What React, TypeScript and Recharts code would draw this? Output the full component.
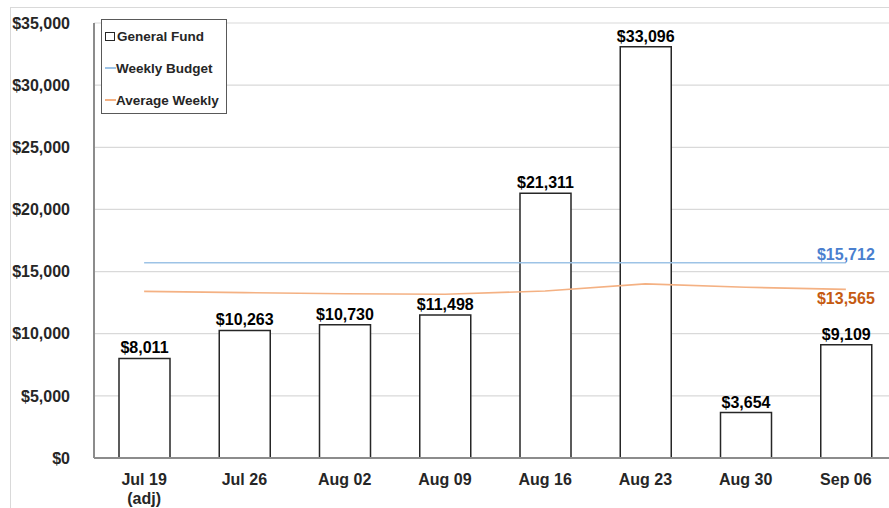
import { ComposedChart, Bar, Line, XAxis, YAxis, CartesianGrid, LabelList } from "recharts";

const categories = ["Jul 19\n(adj)", "Jul 26", "Aug 02", "Aug 09", "Aug 16", "Aug 23", "Aug 30", "Sep 06"];
const generalFund = [8011, 10263, 10730, 11498, 21311, 33096, 3654, 9109];
const weeklyBudget = [15712, 15712, 15712, 15712, 15712, 15712, 15712, 15712];
const averageWeekly = [13410, 13310, 13210, 13170, 13440, 14010, 13740, 13565];
const yTicks = [0, 5000, 10000, 15000, 20000, 25000, 30000, 35000];

const FONT = "'Liberation Sans', Arial, sans-serif";

const data = categories.map((c, i) => ({
  name: c,
  fund: generalFund[i],
  budget: weeklyBudget[i],
  avg: averageWeekly[i],
}));

const money = (v: number) => "$" + Number(v).toLocaleString("en-US");

function XTick(props: any) {
  const { x, y, payload } = props;
  const lines = String(payload.value).split("\n");
  return (
    <text x={x} y={y} textAnchor="middle" fontFamily={FONT} fontSize={16} fontWeight="bold" fill="#262626">
      {lines.map((l, i) => (
        <tspan key={i} x={x} dy={i === 0 ? 19 : 19}>
          {l}
        </tspan>
      ))}
    </text>
  );
}

// only the last point of each line gets its value label
const endLabel = (color: string, below: boolean) => (props: any) => {
  const { x, y, index, value } = props;
  if (index !== categories.length - 1) return null;
  return (
    <text x={x} y={below ? y + 15 : y - 3} textAnchor="middle" fontFamily={FONT} fontSize={16} fontWeight="bold" fill={color}>
      {money(value)}
    </text>
  );
};

function LegendBox() {
  const row = { display: "flex", alignItems: "center", height: 32 } as const;
  return (
    <div
      style={{
        position: "absolute",
        left: 101,
        top: 19,
        width: 121,
        height: 93,
        border: "1.5px solid #595959",
        background: "#fff",
        fontFamily: FONT,
        fontSize: 13.5,
        fontWeight: "bold",
        color: "#262626",
        paddingLeft: 3,
        boxSizing: "content-box",
        whiteSpace: "nowrap",
      }}
    >
      <div style={row}>
        <span style={{ width: 8, height: 7, border: "1px solid #262626", marginRight: 2 }} />
        General Fund
      </div>
      <div style={row}>
        <span style={{ width: 11, height: 1.5, background: "#9dc3e6" }} />
        Weekly Budget
      </div>
      <div style={row}>
        <span style={{ width: 11, height: 1.5, background: "#f4b183" }} />
        Average Weekly
      </div>
    </div>
  );
}

export default function App() {
  return (
    <div style={{ position: "fixed", left: 0, top: 0, width: 889, height: 508, overflow: "hidden", background: "#fff" }}>
      <div
        style={{
          position: "absolute",
          left: 10,
          top: 7,
          width: 900,
          height: 520,
          borderLeft: "1px solid #d9d9d9",
          borderTop: "1px solid #d9d9d9",
        }}
      />
      <ComposedChart width={900} height={508} data={data} margin={{ top: 23, right: 4, left: 0, bottom: 0 }}>
        <CartesianGrid vertical={false} stroke="#d9d9d9" strokeWidth={1.2} />
        <XAxis
          dataKey="name"
          interval={0}
          height={50}
          tickLine={false}
          axisLine={{ stroke: "#8c8c8c", strokeWidth: 2 }}
          tick={<XTick />}
        />
        <YAxis
          width={94}
          domain={[0, 35000]}
          ticks={yTicks}
          tickFormatter={money}
          tickLine={false}
          tickMargin={18}
          axisLine={{ stroke: "#8c8c8c", strokeWidth: 2 }}
          tick={{ fontFamily: FONT, fontSize: 16, fontWeight: "bold", fill: "#262626" }}
        />
        <Bar dataKey="fund" barSize={51} fill="#ffffff" stroke="#262626" strokeWidth={1.5} isAnimationActive={false}>
          <LabelList
            dataKey="fund"
            position="top"
            offset={5}
            formatter={money}
            style={{ fontFamily: FONT, fontSize: 16, fontWeight: "bold", fill: "#000" }}
          />
        </Bar>
        <Line dataKey="budget" stroke="#9dc3e6" strokeWidth={1.6} dot={false} isAnimationActive={false}>
          <LabelList dataKey="budget" content={endLabel("#4a7fcf", false)} />
        </Line>
        <Line dataKey="avg" type="linear" stroke="#f4b183" strokeWidth={1.6} dot={false} isAnimationActive={false}>
          <LabelList dataKey="avg" content={endLabel("#c55a11", true)} />
        </Line>
      </ComposedChart>
      <LegendBox />
    </div>
  );
}
